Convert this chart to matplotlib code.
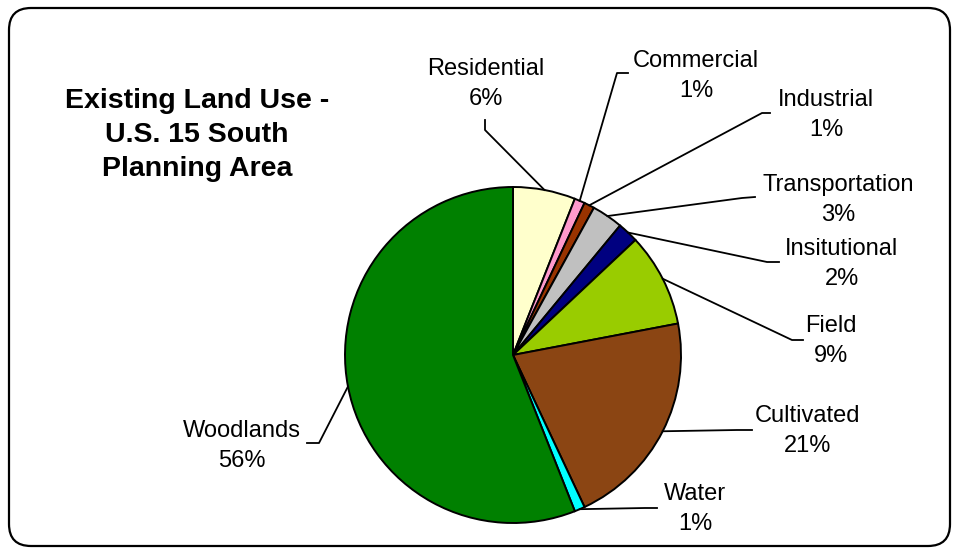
import numpy as np
import matplotlib.pyplot as plt
from matplotlib.patches import FancyBboxPatch

plt.rcParams['font.family'] = ['Liberation Sans', 'DejaVu Sans']

# land use shares (percent), clockwise from 12 o'clock
categories = ['Residential', 'Commercial', 'Industrial', 'Transportation',
              'Insitutional', 'Field', 'Cultivated', 'Water', 'Woodlands']
shares = [6, 1, 1, 3, 2, 9, 21, 1, 56]
colors = ['#FFFFCC', '#FF99CC', '#993300', '#C0C0C0', '#000080',
          '#99CC00', '#8B4513', '#00FFFF', '#008000']

# label text centres and leader elbows, in pixels from top-left
label_xy = [(486, 84), (696, 76), (826, 115), (838, 200), (842, 264),
            (831, 341), (808, 431), (695, 509), (242, 446)]
elbows = [((485, 130), (485, 120)), ((617, 73), (628, 73)),
          ((762, 113), (770, 113)), ((742, 198), (755, 197)),
          ((767, 262), (779, 262)), ((792, 340), (803, 340)),
          ((737, 430), (752, 430)), ((645, 508), (657, 508)),
          ((319, 443), (307, 443))]

W, H = 954, 550
fig = plt.figure(figsize=(W / 100, H / 100), dpi=100)
ax = fig.add_axes([0, 0, 1, 1])

cx, cy, r = 513, H - 355, 168
wedges, _ = ax.pie(shares, colors=colors, startangle=90, counterclock=False,
                   center=(cx, cy), radius=r, frame=True,
                   wedgeprops=dict(edgecolor='black', linewidth=1.4))
ax.set_xlim(0, W)
ax.set_ylim(0, H)
ax.set_aspect('equal')
ax.axis('off')

for w, name, val, (tx, ty), (p1, p2) in zip(wedges, categories, shares, label_xy, elbows):
    mid = np.deg2rad((w.theta1 + w.theta2) / 2)
    ex, ey = cx + r * np.cos(mid), cy + r * np.sin(mid)
    xs = [ex, p1[0], p2[0]]
    ys = [ey, H - p1[1], H - p2[1]]
    ax.plot(xs, ys, color='black', lw=1.3)
    ax.text(tx, H - ty, f'{name}\n{val}%', ha='center', va='center',
            fontsize=17, linespacing=1.45)

ax.text(197, H - 135, 'Existing Land Use -\nU.S. 15 South\nPlanning Area',
        ha='center', va='center', fontsize=20.5, fontweight='bold', linespacing=1.38)

# rounded chart border
border = FancyBboxPatch((9, 4), W - 13, H - 12, boxstyle='round,pad=0,rounding_size=22',
                        fill=False, edgecolor='black', lw=1.6, clip_on=False)
ax.add_patch(border)

fig.savefig('out.png', dpi=100)
